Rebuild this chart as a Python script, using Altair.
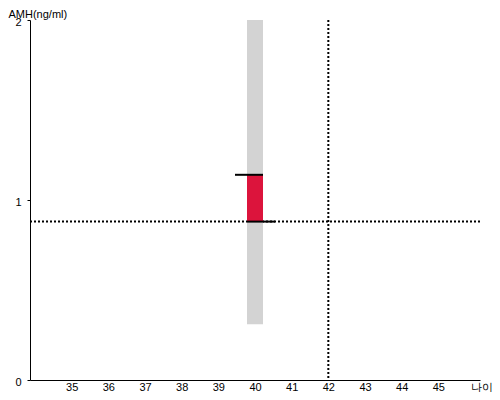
import altair as alt
import pandas as pd

# data
ages = [40]
range_low = [0.31]
range_high = [2.0]
value_low = [0.88]
value_high = [1.14]
ref_age = [42]
ref_amh = [0.88]
x_ticks = [35, 36, 37, 38, 39, 40, 41, 42, 43, 44, 45]
y_ticks = [0, 1, 2]

df = pd.DataFrame({"age": ages, "lo": range_low, "hi": range_high,
                   "vlo": value_low, "vhi": value_high})
df_h = pd.DataFrame({"amh": ref_amh})
df_v = pd.DataFrame({"age": ref_age})

FONT = "Liberation Sans"

xscale = alt.Scale(domain=[34, 46], nice=False, zero=False)
yscale = alt.Scale(domain=[0, 2], nice=False)

xaxis = alt.Axis(values=x_ticks, ticks=False, grid=False, domainColor="black",
                 labelColor="black", labelFont=FONT, labelFontSize=11, labelPadding=1,
                 format=".0f", labelOverlap=False,
                 title="나이", titleFont=FONT, titleFontSize=11, titleFontWeight="normal",
                 titleAngle=0, titleAlign="left", titleBaseline="bottom",
                 titleX=440, titleY=12, titleColor="black")
yaxis = alt.Axis(values=y_ticks, grid=False, domainColor="black", tickColor="black",
                 tickSize=3, labelColor="black", labelFont=FONT, labelFontSize=11,
                 labelPadding=6, format=".0f", labelOverlap=False, labelOffset=2,
                 title="AMH(ng/ml)", titleFont=FONT, titleFontSize=11,
                 titleFontWeight="normal", titleAngle=0, titleAlign="left",
                 titleBaseline="top", titleX=-22, titleY=-12, titleColor="black")

hline = alt.Chart(df_h).mark_rule(color="black", strokeWidth=2, strokeDash=[2, 2]).encode(
    y=alt.Y("amh:Q", scale=yscale, axis=yaxis))
vline = alt.Chart(df_v).mark_rule(color="black", strokeWidth=2, strokeDash=[2, 2]).encode(
    x=alt.X("age:Q", scale=xscale, axis=xaxis))

gray = alt.Chart(df).mark_bar(size=16, color="#d3d3d3").encode(
    x=alt.X("age:Q", scale=xscale, axis=xaxis),
    y=alt.Y("lo:Q", scale=yscale, axis=yaxis), y2="hi:Q")
red = alt.Chart(df).mark_bar(size=16, color="#dc143c").encode(
    x=alt.X("age:Q", scale=xscale), y=alt.Y("vlo:Q", scale=yscale), y2="vhi:Q")
top_tick = alt.Chart(df).mark_rule(color="black", strokeWidth=2, xOffset=-20, x2Offset=8).encode(
    x=alt.X("age:Q", scale=xscale), x2="age:Q", y=alt.Y("vhi:Q", scale=yscale))
bot_tick = alt.Chart(df).mark_rule(color="black", strokeWidth=2, xOffset=-8, x2Offset=20).encode(
    x=alt.X("age:Q", scale=xscale), x2="age:Q", y=alt.Y("vlo:Q", scale=yscale))

chart = alt.layer(hline, vline, gray, red, top_tick, bot_tick).properties(
    width=450, height=360,
    autosize=alt.AutoSizeParams(type="none"),
    padding={"left": 22, "top": 12, "right": 12, "bottom": 12},
).configure_view(stroke=None)

chart.save("out.html", embed_options={"renderer": "svg", "actions": False})
